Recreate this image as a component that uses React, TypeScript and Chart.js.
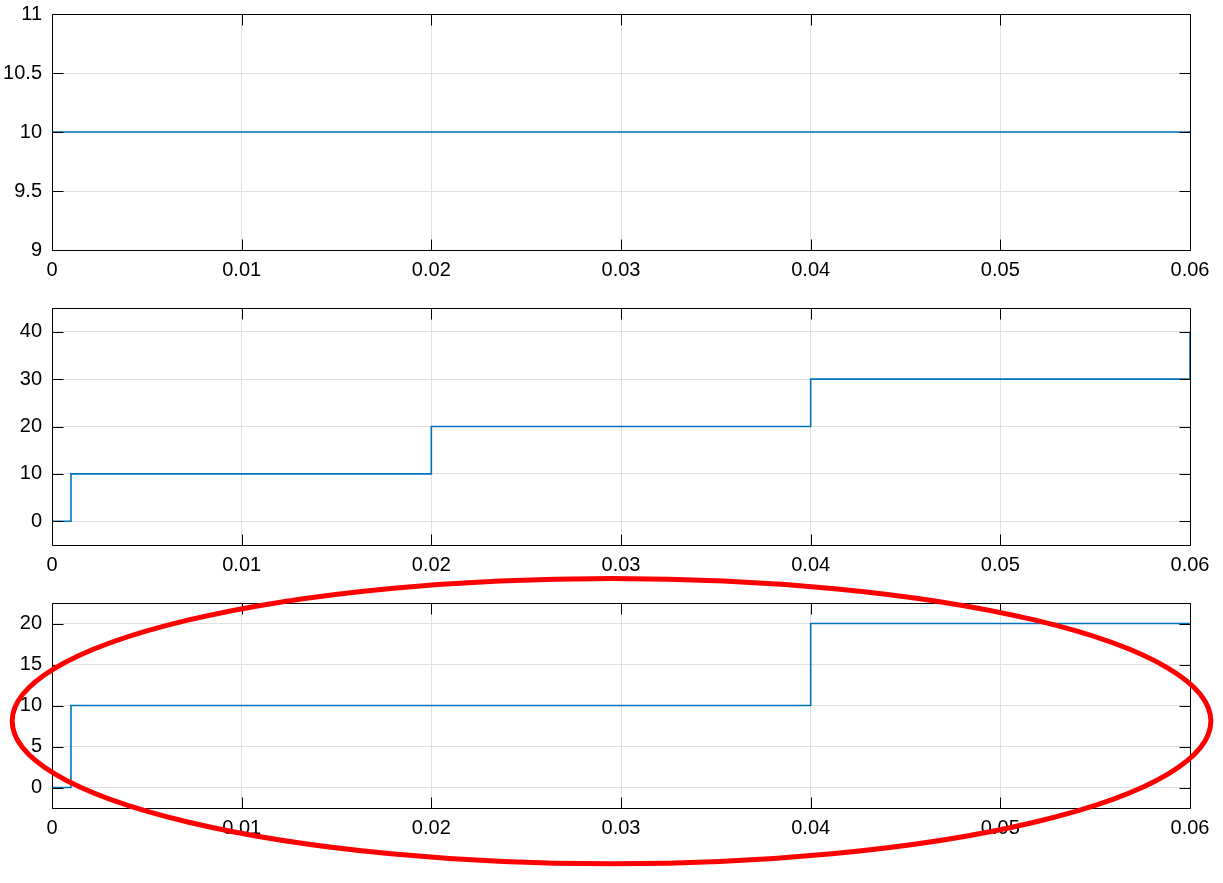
import React, { useEffect, useRef } from "react";
import { Chart, registerables } from "chart.js";

Chart.register(...registerables);

// ---------- data ----------
const xTicks = [0, 0.01, 0.02, 0.03, 0.04, 0.05, 0.06];
const xTickLabels = ["0", "0.01", "0.02", "0.03", "0.04", "0.05", "0.06"];

const time1 = [0, 0.06];
const signal1 = [10, 10];
const yTicks1 = [9, 9.5, 10, 10.5, 11];
const yTickLabels1 = ["9", "9.5", "10", "10.5", "11"];

const time2 = [0, 0.001, 0.02, 0.04, 0.06];
const signal2 = [0, 10, 20, 30, 40];
const yTicks2 = [0, 10, 20, 30, 40];
const yTickLabels2 = ["0", "10", "20", "30", "40"];

const time3 = [0, 0.001, 0.04, 0.06];
const signal3 = [0, 10, 20, 20];
const yTicks3 = [0, 5, 10, 15, 20];
const yTickLabels3 = ["0", "5", "10", "15", "20"];

// red highlight ellipse around the third panel (data units of panel 3)
const ellipseCenter = [0.0295, 8.1];
const ellipseRadii = [0.0316, 17.4];

// ---------- styling ----------
const LINE_COLOR = "#0072BD";
const GRID_COLOR = "#e0e0e0";
const FONT = "'Liberation Sans', Arial, Helvetica, sans-serif";
const FONT_SIZE = 20;

const matlabAxes = {
  id: "matlabAxes",
  afterDatasetsDraw(chart: any) {
    const { ctx, chartArea: a, scales } = chart;
    const L = a.left + 0.5;
    const R = a.right + 0.5;
    const T = a.top + 0.5;
    const B = a.bottom + 0.5;
    const tl = 11;
    ctx.save();
    ctx.strokeStyle = "#000";
    ctx.lineWidth = 1;
    ctx.beginPath();
    ctx.rect(L, T, R - L, B - T);
    scales.x.ticks.forEach((t: any) => {
      const px = Math.round(scales.x.getPixelForValue(t.value)) + 0.5;
      ctx.moveTo(px, B);
      ctx.lineTo(px, B - tl);
      ctx.moveTo(px, T);
      ctx.lineTo(px, T + tl);
    });
    scales.y.ticks.forEach((t: any) => {
      const py = Math.round(scales.y.getPixelForValue(t.value)) + 0.5;
      ctx.moveTo(L, py);
      ctx.lineTo(L + tl, py);
      ctx.moveTo(R, py);
      ctx.lineTo(R - tl, py);
    });
    ctx.stroke();
    ctx.restore();
  },
};

const ellipsePlugin = {
  id: "highlightEllipse",
  afterDraw(chart: any, _args: any, opts: any) {
    if (!opts || !opts.enabled) return;
    const { ctx, scales } = chart;
    const cx = scales.x.getPixelForValue(ellipseCenter[0]);
    const cy = scales.y.getPixelForValue(ellipseCenter[1]);
    const rx = scales.x.getPixelForValue(ellipseCenter[0] + ellipseRadii[0]) - cx;
    const ry = cy - scales.y.getPixelForValue(ellipseCenter[1] + ellipseRadii[1]);
    ctx.save();
    ctx.strokeStyle = "#ff0000";
    ctx.lineWidth = 5;
    ctx.beginPath();
    ctx.ellipse(cx, cy, rx, ry, 0, 0, Math.PI * 2);
    ctx.stroke();
    ctx.restore();
  },
};

type PanelProps = {
  time: number[];
  signal: number[];
  yMin: number;
  yMax: number;
  yTicks: number[];
  yLabels: string[];
  top: number;
  height: number;
  padTop: number;
  padBottom: number;
  ellipse?: boolean;
};

function Panel(p: PanelProps) {
  const ref = useRef<HTMLCanvasElement | null>(null);
  useEffect(() => {
    if (!ref.current) return;
    const chart = new Chart(ref.current, {
      type: "line",
      data: {
        datasets: [
          {
            data: p.time.map((t, i) => ({ x: t, y: p.signal[i] })),
            borderColor: LINE_COLOR,
            borderWidth: 1.6,
            pointRadius: 0,
            stepped: "before",
            fill: false,
          },
        ],
      },
      options: {
        animation: false,
        responsive: true,
        maintainAspectRatio: false,
        layout: {
          padding: { left: 0, right: 33, top: p.padTop, bottom: p.padBottom },
        },
        plugins: {
          legend: { display: false },
          tooltip: { enabled: false },
          highlightEllipse: { enabled: !!p.ellipse },
        } as any,
        scales: {
          x: {
            type: "linear",
            min: 0,
            max: 0.06,
            afterBuildTicks: (s: any) => {
              s.ticks = xTicks.map((v) => ({ value: v }));
            },
            afterFit: (s: any) => {
              s.height = 40;
              s.paddingLeft = 0;
              s.paddingRight = 0;
            },
            ticks: {
              padding: 8,
              color: "#000",
              font: { family: FONT, size: FONT_SIZE },
              maxRotation: 0,
              autoSkip: false,
              callback: (_v: any, i: number) => xTickLabels[i],
            },
            grid: { color: GRID_COLOR, drawTicks: false, lineWidth: 1 },
            border: { display: false },
          },
          y: {
            type: "linear",
            min: p.yMin,
            max: p.yMax,
            afterBuildTicks: (s: any) => {
              s.ticks = p.yTicks.map((v) => ({ value: v }));
            },
            afterFit: (s: any) => {
              s.width = 52;
              s.paddingTop = 0;
              s.paddingBottom = 0;
            },
            ticks: {
              padding: 10,
              color: "#000",
              font: { family: FONT, size: FONT_SIZE },
              autoSkip: false,
              callback: (_v: any, i: number) => p.yLabels[i],
            },
            grid: { color: GRID_COLOR, drawTicks: false, lineWidth: 1 },
            border: { display: false },
          },
        },
      },
      plugins: [matlabAxes, ellipsePlugin],
    });
    return () => chart.destroy();
  }, []);
  return (
    <div
      style={{
        position: "absolute",
        left: 0,
        top: p.top,
        width: 1223,
        height: p.height,
      }}
    >
      <canvas ref={ref} />
    </div>
  );
}

export default function App() {
  return (
    <div
      style={{
        position: "absolute",
        left: 0,
        top: 0,
        width: 1223,
        height: 883,
        background: "#fff",
        overflow: "hidden",
      }}
    >
      <Panel
        time={time1}
        signal={signal1}
        yMin={9}
        yMax={11}
        yTicks={yTicks1}
        yLabels={yTickLabels1}
        top={0}
        height={290}
        padTop={14}
        padBottom={0}
      />
      <Panel
        time={time2}
        signal={signal2}
        yMin={-5}
        yMax={45}
        yTicks={yTicks2}
        yLabels={yTickLabels2}
        top={294}
        height={291}
        padTop={14}
        padBottom={0}
      />
      <Panel
        time={time3}
        signal={signal3}
        yMin={-2.5}
        yMax={22.5}
        yTicks={yTicks3}
        yLabels={yTickLabels3}
        top={560}
        height={323}
        padTop={43}
        padBottom={35}
        ellipse
      />
    </div>
  );
}
